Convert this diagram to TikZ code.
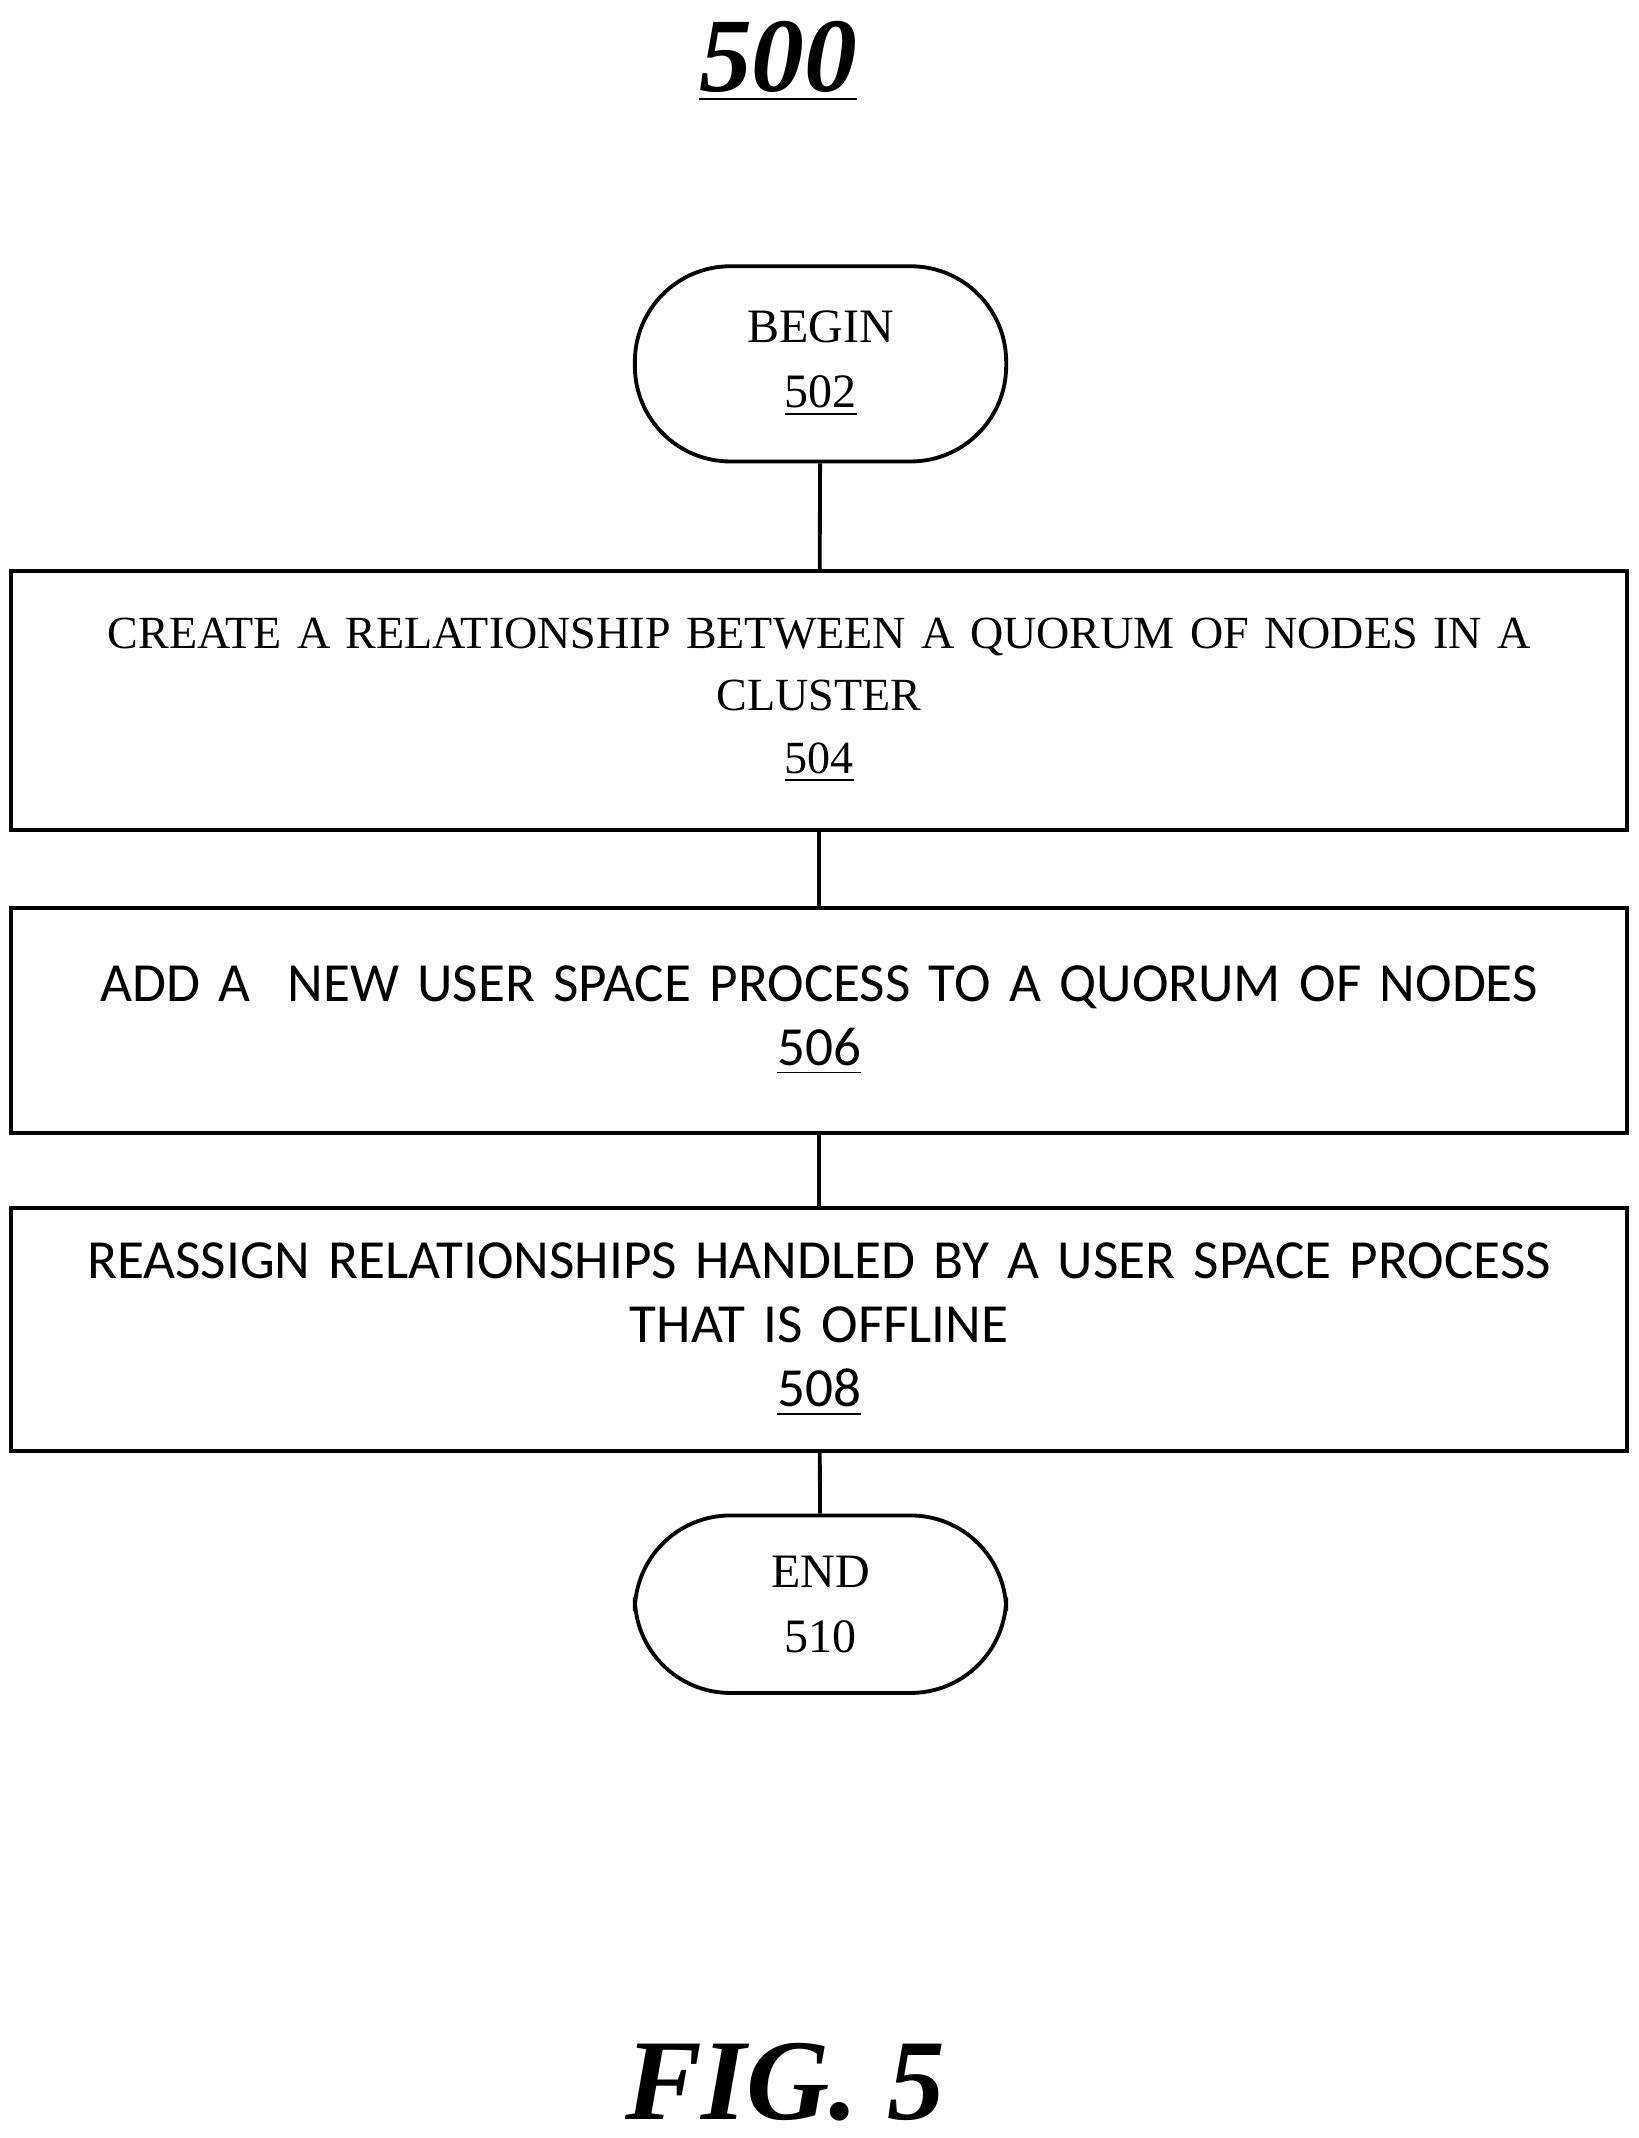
\documentclass[tikz,border=0pt]{standalone}
\usepackage{fontspec}
\setmainfont{Liberation Serif}
\newfontfamily\boxsans{Carlito}
\usetikzlibrary{positioning}
\usetikzlibrary{shapes}
\tikzset{
  flowbox/.style={rectangle, draw, thick, minimum width=11.7cm, text width=11.6cm, align=center, font=\fontsize{9.6}{13}\selectfont},
  sansbox/.style={flowbox, font=\boxsans\fontsize{11.5}{13.3}\selectfont},
  term/.style={rectangle, rounded corners=0.7cm, draw, thick, minimum width=2.72cm, align=center, font=\fontsize{10}{13.5}\selectfont}
}
\begin{document}
\begin{tikzpicture}
				\useasboundingbox (0,0) rectangle (12,-15.66);
				\node[font=\fontsize{22}{24}\selectfont\bfseries\itshape] (T) at (5.7,-0.45) {\underline{500}};
				\node[term, minimum height=1.43cm] (B) at (6.01,-2.665) {BEGIN\\\underline{502}};
				\node[flowbox, minimum height=1.9cm] (1) at (6.0,-5.13) {CREATE A RELATIONSHIP BETWEEN A QUORUM OF NODES IN A\\CLUSTER\\\underline{504}};
				\node[sansbox, minimum height=1.65cm] (2) at (6.0,-7.475) {ADD A \ NEW USER SPACE PROCESS TO A QUORUM OF NODES\\\underline{506}};
				\node[sansbox, minimum height=1.78cm] (3) at (6.0,-9.74) {REASSIGN RELATIONSHIPS HANDLED BY A USER SPACE PROCESS\\THAT IS OFFLINE\\\underline{508}};
				\node[term, minimum height=1.3cm] (E) at (6.01,-11.75) {END\\510};
				\node[font=\fontsize{24}{26}\selectfont\bfseries\itshape] (F) at (5.75,-15.25) {FIG. 5};

				\draw[thick]  (B) -- (1);
				\draw[thick]  (1) -- (2);
				\draw[thick]  (2) -- (3);
				\draw[thick]  (3) -- (E);
			\end{tikzpicture}
\end{document}
